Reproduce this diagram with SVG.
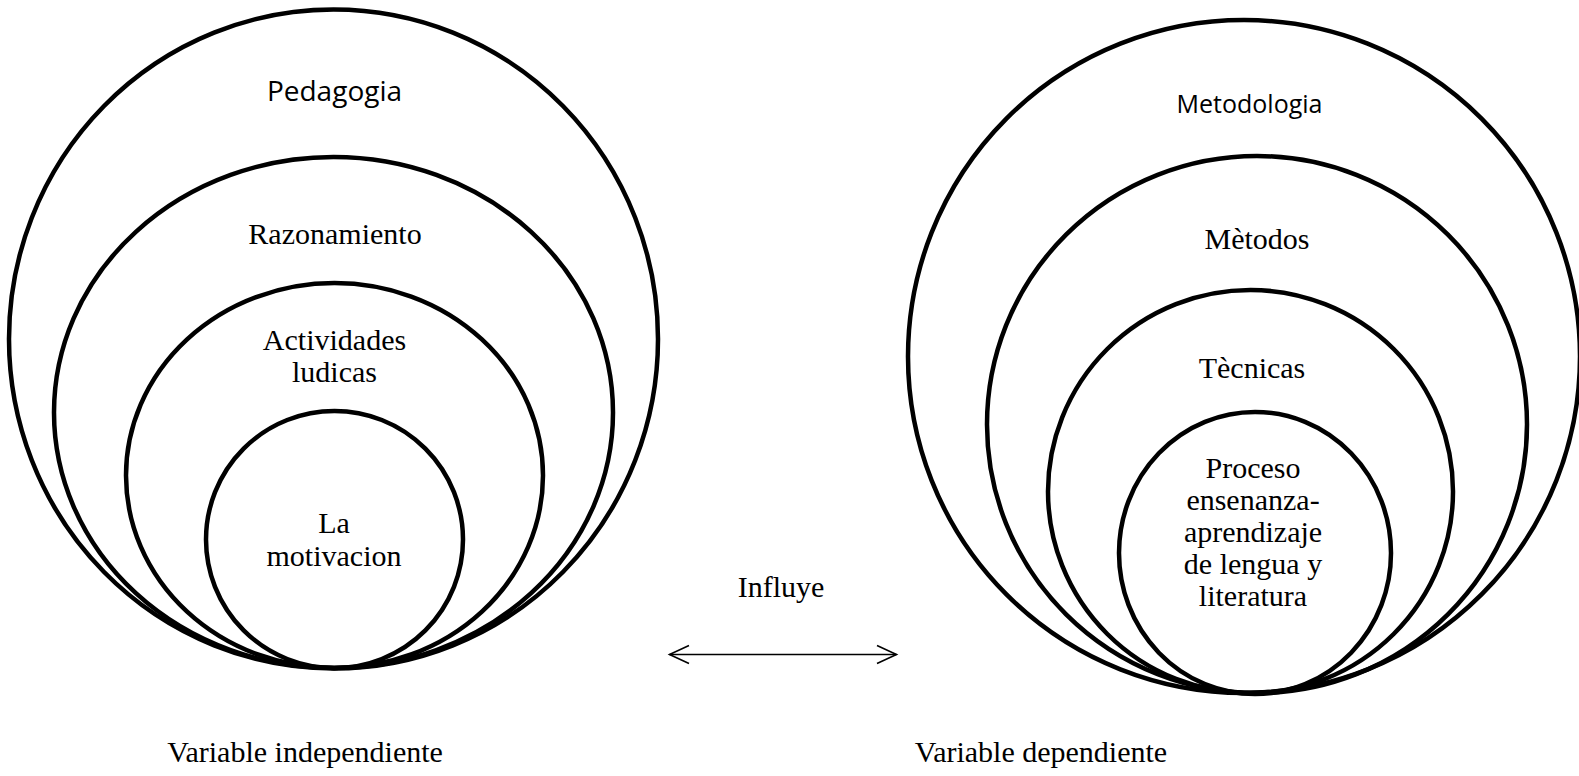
<svg xmlns="http://www.w3.org/2000/svg" width="1579" height="776" viewBox="0 0 1579 776">
<style>
  .ring { fill: none; stroke: #000; stroke-width: 4.5; }
  .serif { font-family: "Liberation Serif", "Times New Roman", serif; font-size: 30px; fill: #000; text-anchor: middle; }
  .sans { font-family: "Open Sans", "Liberation Sans", sans-serif; fill: #000; text-anchor: middle; }
  .conn { fill: none; stroke: #000; stroke-width: 1.6; }
</style>
<rect width="1579" height="776" fill="#fff"/>
<g id="left-diagram">
  <g id="pedagogia">
    <ellipse class="ring" cx="333.5" cy="339" rx="324.5" ry="329.5"/>
    <text class="sans" x="334.5" y="101" font-size="28">Pedagogia</text>
  </g>
  <g id="razonamiento">
    <ellipse class="ring" cx="333.5" cy="412.5" rx="279.5" ry="255.5"/>
    <text class="serif" x="335" y="244" font-size="26">Razonamiento</text>
  </g>
  <g id="actividades">
    <ellipse class="ring" cx="334.5" cy="475.5" rx="208.5" ry="192.5"/>
    <text class="serif" x="334.5" y="350">Actividades</text>
    <text class="serif" x="334.5" y="382">ludicas</text>
  </g>
  <g id="motivacion">
    <ellipse class="ring" cx="334.5" cy="539.5" rx="128.5" ry="128.5"/>
    <text class="serif" x="334" y="533">La</text>
    <text class="serif" x="334" y="566">motivacion</text>
  </g>
  <text class="serif" x="305" y="762" font-size="31.5">Variable independiente</text>
</g>
<g id="right-diagram">
  <g id="metodologia">
    <ellipse class="ring" cx="1244" cy="356.5" rx="336" ry="336.5"/>
    <text class="sans" x="1249.5" y="113" font-size="25">Metodologia</text>
  </g>
  <g id="metodos">
    <ellipse class="ring" cx="1257" cy="424.5" rx="270" ry="268.5"/>
    <text class="serif" x="1257" y="249" font-size="31.5">Mètodos</text>
  </g>
  <g id="tecnicas">
    <ellipse class="ring" cx="1250.5" cy="491.5" rx="202.5" ry="201.5"/>
    <text class="serif" x="1252" y="378" font-size="31">Tècnicas</text>
  </g>
  <g id="proceso">
    <ellipse class="ring" cx="1255" cy="553" rx="136" ry="141"/>
    <text class="serif" x="1253" y="478" font-size="31">Proceso</text>
    <text class="serif" x="1253" y="510" font-size="31">ensenanza-</text>
    <text class="serif" x="1253" y="542" font-size="31">aprendizaje</text>
    <text class="serif" x="1253" y="574" font-size="31">de lengua y</text>
    <text class="serif" x="1253" y="606" font-size="31">literatura</text>
  </g>
  <text class="serif" x="1041" y="762" font-size="31.5">Variable dependiente</text>
</g>
<g id="connectors">
  <text class="serif" x="781" y="597">Influye</text>
  <line class="conn" x1="669.5" y1="654.5" x2="896.5" y2="654.5"/>
  <polyline class="conn" points="689,645.5 669.5,654.5 689,663.5"/>
  <polyline class="conn" points="877,645.5 896.5,654.5 877,663.5"/>
</g>
</svg>
